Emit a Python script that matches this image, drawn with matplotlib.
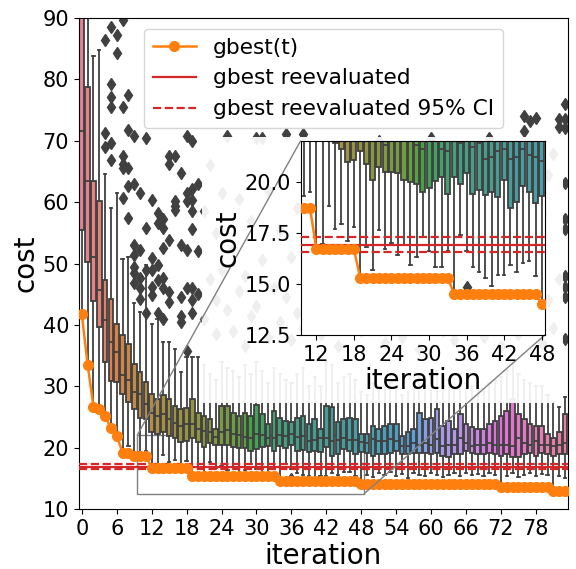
import matplotlib
matplotlib.use("Agg")
import matplotlib.pyplot as plt
import seaborn as sns
from matplotlib.patches import Rectangle
from mpl_toolkits.axes_grid1.inset_locator import mark_inset

# ---------------- data ----------------
iterations = list(range(84))

gbest = [41.7, 33.5, 26.7, 26.3, 25.1, 23.2, 21.9, 19.2, 19.2, 18.7, 18.7, 18.7,
         16.7, 16.7, 16.7, 16.7, 16.7, 16.7, 16.7,
         15.3, 15.3, 15.3, 15.3, 15.3, 15.3, 15.3, 15.3, 15.3, 15.3, 15.3, 15.3, 15.3, 15.3, 15.3,
         14.5, 14.5, 14.5, 14.5, 14.5, 14.5, 14.5, 14.5, 14.5, 14.5, 14.5, 14.5, 14.5, 14.5,
         14.0, 14.0, 14.0, 14.0, 14.0, 14.0, 14.0, 14.0, 14.0, 14.0, 14.0, 14.0,
         14.0, 14.0, 14.0, 14.0, 14.0, 14.0, 14.0, 14.0, 14.0, 14.0, 14.0, 14.0,
         13.6, 13.6, 13.6, 13.6, 13.6, 13.6, 13.6, 13.6, 13.6,
         12.9, 12.9, 12.9]

reeval_mean = 16.9
reeval_ci = [16.55, 17.27]

q1 = [55.4, 50.3, 43.9, 39.7, 34.0, 30.9, 30.7, 28.7, 27.4, 26.3, 24.9, 24.6,
      22.5, 22.2, 22.5, 21.9, 21.6, 20.95, 21.05, 21.5, 20.87, 20.1, 20.7, 20.45,
      20.45, 20.4, 20.1, 19.97, 19.9, 19.5, 19.7, 20.05, 20.2, 19.4, 20.2, 19.9,
      20.4, 19.4, 19.6, 19.35, 19.5, 19.25, 20.1, 18.7, 19.0, 19.8, 19.5, 18.95,
      19.3, 19.2, 18.6, 18.9, 18.9, 19.2, 19.5, 18.9, 18.9, 19.2, 19.2, 19.2,
      18.9, 19.2, 18.6, 18.4, 18.9, 18.9, 19.5, 19.2, 18.9, 18.9, 19.2, 18.9,
      18.6, 18.9, 18.4, 18.4, 18.9, 19.2, 18.6, 19.2, 18.9, 18.6, 18.9, 18.9]

med = [71.6, 63.4, 51.1, 45.7, 40.8, 37.2, 35.6, 31.8, 31.0, 29.0, 28.7, 27.1,
       25.7, 25.2, 25.5, 24.6, 24.0, 23.6, 23.8, 23.8, 23.0, 22.7, 22.5, 21.8,
       22.5, 22.8, 22.2, 22.0, 21.8, 21.6, 22.3, 22.0, 21.6, 21.5, 22.0, 21.9,
       22.2, 21.7, 21.9, 21.1, 21.2, 21.5, 21.6, 21.1, 21.2, 21.6, 21.3, 21.2,
       21.0, 20.8, 21.4, 21.1, 21.1, 21.4, 21.1, 20.3, 20.3, 20.8, 20.5, 20.8,
       20.5, 21.4, 20.3, 20.5, 20.5, 21.6, 20.8, 20.3, 20.5, 20.5, 20.8, 20.5,
       20.5, 20.5, 20.3, 21.6, 20.8, 20.5, 21.1, 20.5, 20.5, 20.3, 20.5, 20.8]

q3 = [100.0, 78.7, 63.4, 60.2, 47.3, 44.3, 40.2, 38.3, 36.9, 33.7, 32.3, 30.7,
      28.7, 27.9, 28.5, 27.9, 26.8, 26.3, 26.5, 27.9, 25.7, 25.2, 24.6, 23.0,
      26.8, 26.8, 25.7, 25.2, 25.7, 25.2, 26.9, 25.5, 23.8, 25.9, 24.9, 24.4,
      24.1, 24.9, 25.2, 23.8, 24.6, 23.0, 26.8, 26.6, 24.1, 24.6, 24.9, 24.6,
      22.2, 22.2, 23.6, 23.0, 23.6, 23.8, 23.8, 21.9, 22.5, 23.0, 25.7, 24.6,
      24.9, 26.3, 23.6, 24.4, 23.0, 25.5, 23.8, 23.3, 23.0, 23.0, 23.8, 24.4,
      25.2, 26.0, 27.9, 25.5, 24.6, 23.8, 23.6, 23.6, 22.2, 21.6, 22.5, 25.5]

whis_lo = [41.7, 33.5, 26.7, 26.3, 25.1, 23.2, 21.9, 19.2, 20.3, 18.74, 19.3, 19.5,
           16.72, 16.97, 18.8, 17.7, 17.94, 17.1, 17.8, 15.28, 16.8, 15.67, 17.65, 16.7,
           17.0, 16.4, 16.9, 15.9, 16.3, 17.3, 16.6, 15.8, 15.8, 16.6, 14.5, 17.4,
           16.6, 15.8, 15.6, 15.3, 14.9, 15.45, 15.45, 15.9, 15.6, 16.0, 16.1, 15.4,
           14.0, 15.6, 15.2, 15.8, 15.5, 16.0, 15.4, 15.7, 15.1, 15.9, 15.6, 15.3,
           15.8, 15.5, 15.2, 15.6, 15.9, 15.4, 15.8, 15.5, 15.7, 15.3, 15.9, 15.6,
           13.6, 15.4, 15.8, 15.2, 15.6, 15.9, 15.4, 15.7, 15.5, 12.9, 15.3, 15.0]

whis_hi = [130.0, 110.0, 83.8, 84.8, 64.6, 59.1, 61.5, 50.7, 51.0, 43.5, 42.1, 49.8,
           40.2, 41.0, 37.2, 37.2, 36.0, 32.3, 34.8, 34.8, 34.8, 33.5, 32.0, 31.0,
           34.0, 33.0, 32.5, 31.5, 33.5, 32.0, 34.0, 32.5, 30.5, 33.0, 32.0, 31.0,
           30.5, 32.0, 33.0, 30.0, 31.5, 30.0, 34.0, 33.5, 30.5, 31.5, 32.0, 31.0,
           29.0, 28.5, 30.5, 29.5, 30.0, 30.5, 30.0, 28.5, 29.0, 29.5, 32.0, 31.0,
           31.5, 32.5, 30.0, 31.0, 29.5, 32.0, 30.5, 30.0, 29.5, 29.5, 30.5, 31.0,
           31.5, 32.5, 34.0, 32.0, 31.0, 30.5, 30.0, 30.0, 28.5, 27.5, 26.6, 28.2]

fliers = {
    4: [86.5, 71.2, 69.0], 5: [88.6, 79.3, 77.1, 75.5, 69.7, 66.8],
    6: [87.3, 84.3], 7: [89.7, 75.5, 67.5, 66.2, 65.6, 60.7],
    8: [77.5, 71.8, 65.6, 62.6, 57.4], 9: [70.8, 62.9, 53.1, 51.4, 49.5, 48.4, 46.8],
    10: [61.5, 52.2, 47.6, 46.0, 44.3], 11: [70.5, 55.8, 49.0, 42.0],
    12: [60.4, 50.9, 49.0, 46.2, 44.9], 13: [58.2, 56.6, 49.8, 47.3, 42.0],
    14: [57.2, 55.8, 52.5, 47.6, 46.0, 41.0], 15: [67.5, 66.2, 53.9, 45.4, 43.8],
    16: [67.5, 60.2, 59.4, 58.8], 17: [64.8, 53.1, 44.6, 41.5, 40.4],
    18: [70.8, 61.5, 60.2, 52.2, 46.0, 35.8], 19: [70.0, 62.1, 60.4, 58.5, 55.6, 46.0, 44.0, 42.0],
    20: [45.0, 52.0, 63.0], 21: [41.0, 58.5], 22: [47.5, 66.0], 23: [38.5, 44.0, 55.0],
    24: [49.0, 61.5], 25: [70.8, 42.5], 26: [52.5, 39.0], 27: [45.5, 60.5],
    28: [36.5, 48.0], 29: [57.0, 41.5], 30: [70.5, 43.0], 31: [70.5, 50.5],
    32: [38.0, 62.0], 33: [46.0], 34: [40.5, 55.5], 35: [71.1, 44.5],
    36: [37.5, 51.0, 14.85], 37: [59.0, 42.0], 38: [71.1, 39.5], 39: [47.0],
    40: [43.5, 64.0], 41: [38.5], 42: [53.5, 41.0], 43: [45.0], 44: [36.5, 58.0],
    45: [49.5], 46: [40.0, 62.5], 47: [44.0], 48: [39.0, 55.0], 49: [47.5],
    50: [41.5, 60.0], 51: [70.0, 43.0], 52: [37.0], 53: [51.5, 40.0], 54: [45.0],
    55: [38.0, 66.5], 56: [48.0], 57: [42.5, 57.5], 58: [36.0], 59: [50.0],
    60: [70.5, 41.0], 61: [46.5], 62: [39.0, 59.0], 63: [44.0], 64: [37.5, 52.0],
    65: [42.0], 66: [48.5, 63.5], 67: [39.5], 68: [45.5], 69: [38.0, 56.0],
    70: [70.5, 43.5], 71: [40.5], 72: [49.0, 36.5], 73: [61.0], 74: [44.5],
    75: [38.5, 54.0], 76: [74.1, 71.6, 46.0], 77: [73.3, 41.0], 78: [73.7, 50.5],
    79: [37.0, 58.0], 80: [44.0, 64.5], 81: [67.9, 39.5], 82: [72.2, 73.6, 47.5],
    83: [76.0, 73.6, 72.1, 63.1, 57.2, 55.6, 47.9, 46.2, 44.6, 37.7],
}

xticks_main = [0, 6, 12, 18, 24, 30, 36, 42, 48, 54, 60, 66, 72, 78]
yticks_main = [10, 20, 30, 40, 50, 60, 70, 80, 90]
xticks_inset = [12, 18, 24, 30, 36, 42, 48]
yticks_inset = [12.5, 15.0, 17.5, 20.0]

# ---------------- style ----------------
GRAY = "#404040"
ORANGE = "#ff7f0e"
RED = "#d62728"
LW = 1.3
pal = [sns.desaturate(c, 0.75) for c in sns.color_palette("husl", len(iterations))]

stats = []
for i in iterations:
    stats.append(dict(med=med[i], q1=q1[i], q3=q3[i], whislo=whis_lo[i],
                      whishi=whis_hi[i], fliers=fliers.get(i, [])))


def draw(ax, ms_flier=6):
    res = ax.bxp(stats, positions=iterations, widths=0.8, patch_artist=True,
                 manage_ticks=False,
                 boxprops=dict(edgecolor=GRAY, linewidth=LW),
                 whiskerprops=dict(color=GRAY, linewidth=LW),
                 capprops=dict(color=GRAY, linewidth=LW),
                 medianprops=dict(color=GRAY, linewidth=LW),
                 flierprops=dict(marker="d", markerfacecolor=GRAY,
                                 markeredgecolor=GRAY, markersize=ms_flier,
                                 linestyle="none"))
    for patch, c in zip(res["boxes"], pal):
        patch.set_facecolor(c)
    ax.plot(iterations, gbest, "-o", color=ORANGE, lw=1.8, ms=7,
            label="gbest(t)", zorder=6)
    ax.axhline(reeval_mean, color=RED, lw=1.6, label="gbest reevaluated", zorder=5)
    ax.axhline(reeval_ci[0], color=RED, lw=1.6, ls="--",
               label="gbest reevaluated 95% CI", zorder=5)
    ax.axhline(reeval_ci[1], color=RED, lw=1.6, ls="--", zorder=5)


fig = plt.figure(figsize=(5.76, 5.69), dpi=100)
ax = fig.add_axes([0.137, 0.1054, 0.849, 0.8629])
draw(ax)
ax.set_xlim(-0.5, 83.5)
ax.set_ylim(10, 90)
ax.set_xticks(xticks_main)
ax.set_yticks(yticks_main)
ax.tick_params(labelsize=15)
ax.set_xlabel("iteration", fontsize=20, labelpad=2)
ax.set_ylabel("cost", fontsize=20, labelpad=2)
ax.legend(loc="upper center", fontsize=15.6, framealpha=0.8)

# faded white area behind the inset
fig.add_artist(Rectangle((0.3507, 0.2917), 0.627, 0.4675, transform=fig.transFigure,
                         facecolor="white", edgecolor="none", alpha=0.92, zorder=1))

axins = fig.add_axes([0.522, 0.4113, 0.424, 0.3415], zorder=5)
draw(axins)
axins.set_xlim(9.5, 48.5)
axins.set_ylim(12.5, 22.0)
axins.set_xticks(xticks_inset)
axins.set_yticks(yticks_inset)
axins.tick_params(labelsize=15)
axins.set_xlabel("iteration", fontsize=20, labelpad=2)
axins.set_ylabel("cost", fontsize=20, labelpad=2)

mark_inset(ax, axins, loc1=2, loc2=4, fc="none", ec="0.5")

fig.savefig("out.png", dpi=100)
